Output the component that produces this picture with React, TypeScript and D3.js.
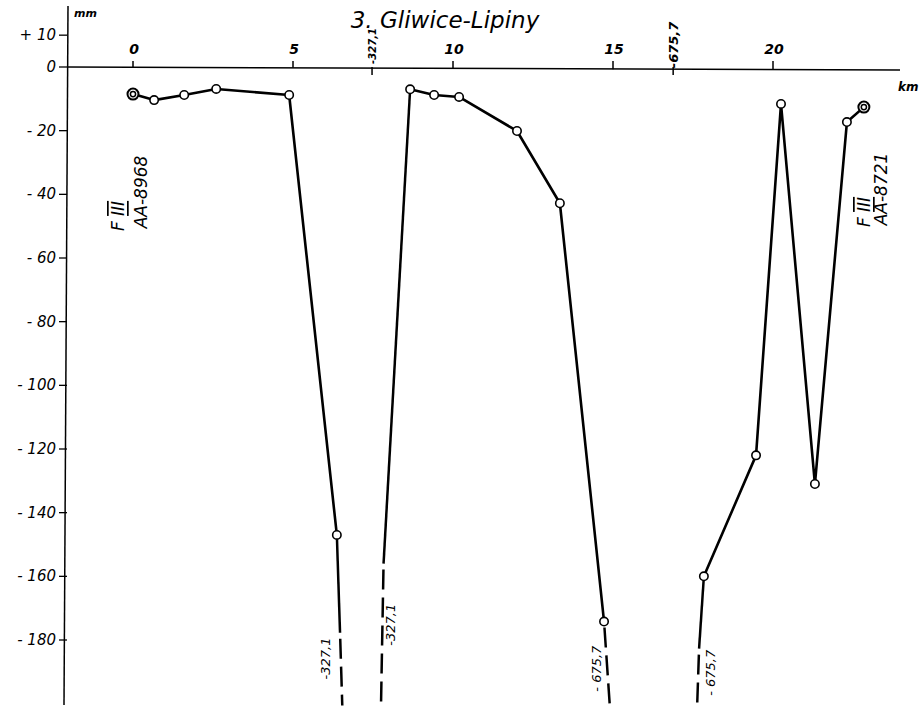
import React from "react";
import * as d3 from "d3";

const W = 919;
const H = 712;

const title = "3. Gliwice-Lipiny";
const kmTicks = [0, 5, 10, 15, 20];
const mmTicks = [10, 0, -20, -40, -60, -80, -100, -120, -140, -160, -180];
const mmTickLabels = ["+ 10", "0", "- 20", "- 40", "- 60", "- 80", "- 100", "- 120", "- 140", "- 160", "- 180"];

// profile segments (km, mm)
const seg1Km = [0, 0.66, 1.6, 2.6, 4.88, 6.37];
const seg1Mm = [-8.5, -10.4, -8.8, -6.9, -8.8, -147];
const seg2Km = [8.66, 9.41, 10.19, 12.0, 13.34, 14.72];
const seg2Mm = [-7, -8.8, -9.4, -20.1, -42.8, -174.2];
const seg3Km = [17.84, 19.47, 20.25, 21.31, 22.31, 22.84];
const seg3Mm = [-160, -122, -11.6, -131, -17.3, -12.6];

// off-scale continuations: [point, solid end, dashed end]
const breakKm = [
  [6.37, 6.47, 6.54],
  [8.66, 7.83, 7.75],
  [14.72, 14.72, 14.9],
  [17.84, 17.69, 17.63],
];
const breakMm = [
  [-147, -177.7, -200.6],
  [-7, -156, -200.6],
  [-174.2, -174.2, -200.6],
  [-160, -182.7, -200.6],
];
const breakLabels = ["-327,1", "-327,1", "- 675,7", "- 675,7"];
const breakLabelKm = [6.02, 8.04, 14.47, 18.05];
const breakLabelMm = [-185.8, -175.2, -189, -190.3];

// axis break markers on km axis
const axisBreakKm = [7.47, 16.88];
const axisBreakLabels = ["-327,1", "-675,7"];

// station labels
const stationLeft = ["F III", "AA-8968"];
const stationRight = ["F III", "AA-8721"];

const FONT = "'DejaVu Sans', 'Liberation Sans', sans-serif";

export default function App() {
  const x = d3.scaleLinear().domain([0, 20]).range([133, 773]);
  const y = d3.scaleLinear().domain([0, -180]).range([67, 640]);
  const line = d3
    .line<[number, number]>()
    .x((d) => x(d[0]))
    .y((d) => y(d[1]));

  const segs = [
    [seg1Km, seg1Mm],
    [seg2Km, seg2Mm],
    [seg3Km, seg3Mm],
  ].map(([k, m]) => k.map((v, i) => [v, m[i]] as [number, number]));

  const axisY0 = y(0);
  const txt = { fontFamily: FONT, fontStyle: "italic" as const, fill: "#000" };

  const rotLabel = (
    cx: number,
    cy: number,
    s: React.ReactNode,
    size: number,
    key?: string | number,
    weight: string = "normal"
  ) => (
    <text
      key={key}
      transform={`translate(${cx},${cy}) rotate(-90)`}
      textAnchor="middle"
      dominantBaseline="central"
      fontSize={size}
      fontWeight={weight}
      {...txt}
    >
      {s}
    </text>
  );

  const roman = (s: string) => {
    const [f, r] = s.split(" ");
    return (
      <>
        {f + " "}
        <tspan textDecoration="overline underline">{r}</tspan>
      </>
    );
  };

  return (
    <svg
      width={W}
      height={H}
      style={{ position: "absolute", left: 0, top: 0, background: "#fff" }}
    >
      <rect width={W} height={H} fill="#fff" />
      {/* title */}
      <text x={445} y={28} textAnchor="middle" fontSize={23} {...txt}>
        {title}
      </text>
      <text x={74} y={17} fontSize={11} fontWeight="bold" {...txt}>
        mm
      </text>
      <text x={898} y={91} fontSize={12} fontWeight="bold" {...txt}>
        km
      </text>

      {/* y axis */}
      <line x1={68} y1={6} x2={64} y2={705} stroke="#000" strokeWidth={1.5} />
      {mmTicks.map((t, i) => (
        <g key={t}>
          <line x1={59} x2={67} y1={y(t)} y2={y(t)} stroke="#000" strokeWidth={1.3} />
          <text
            x={56}
            y={y(t)}
            textAnchor="end"
            dominantBaseline="central"
            fontSize={15}
            {...txt}
          >
            {mmTickLabels[i]}
          </text>
        </g>
      ))}

      {/* x axis */}
      <line x1={67} y1={axisY0} x2={900} y2={axisY0 + 3} stroke="#000" strokeWidth={1.5} />
      {kmTicks.map((t) => (
        <g key={t}>
          <line x1={x(t)} x2={x(t)} y1={axisY0 - 6} y2={axisY0 + t * 0.15} stroke="#000" strokeWidth={1.5} />
          <text x={x(t) + 1} y={54} textAnchor="middle" fontSize={14} fontWeight="bold" {...txt}>
            {t}
          </text>
        </g>
      ))}
      {axisBreakKm.map((k, i) => (
        <g key={k}>
          <line x1={x(k)} x2={x(k)} y1={axisY0} y2={axisY0 + 8} stroke="#000" strokeWidth={1.5} />
          {rotLabel(x(k), i === 0 ? 46 : 45, axisBreakLabels[i], i === 0 ? 10 : 13, "ab" + i, "bold")}
        </g>
      ))}

      {/* off-scale continuations */}
      {breakKm.map((k, i) => {
        const m = breakMm[i];
        return (
          <g key={"b" + i}>
            <path
              d={line([[k[0], m[0]], [k[1], m[1]]]) || ""}
              fill="none"
              stroke="#000"
              strokeWidth={2.5}
            />
            <path
              d={line([[k[1], m[1]], [k[2], m[2]]]) || ""}
              fill="none"
              stroke="#000"
              strokeWidth={2.5}
              strokeDasharray="20 8"
              strokeDashoffset={-6}
            />
            {rotLabel(x(breakLabelKm[i]), y(breakLabelMm[i]), breakLabels[i], 13, "bl" + i)}
          </g>
        );
      })}

      {/* profile lines */}
      {segs.map((s, i) => (
        <path key={"s" + i} d={line(s) || ""} fill="none" stroke="#000" strokeWidth={2.6} strokeLinejoin="round" />
      ))}
      {segs.map((s, i) =>
        s.map((d, j) => {
          const dbl = (i === 0 && j === 0) || (i === 2 && j === s.length - 1);
          return dbl ? (
            <g key={`p${i}-${j}`}>
              <circle cx={x(d[0])} cy={y(d[1])} r={5.5} fill="#fff" stroke="#000" strokeWidth={2} />
              <circle cx={x(d[0])} cy={y(d[1])} r={2.6} fill="#fff" stroke="#000" strokeWidth={1.5} />
            </g>
          ) : (
            <circle key={`p${i}-${j}`} cx={x(d[0])} cy={y(d[1])} r={4.2} fill="#fff" stroke="#000" strokeWidth={1.6} />
          );
        })
      )}

      {/* station labels */}
      {rotLabel(118, 216, roman(stationLeft[0]), 17, "sl0")}
      {rotLabel(141, 192, stationLeft[1], 17, "sl1")}
      {rotLabel(864, 212, roman(stationRight[0]), 17, "sr0")}
      {rotLabel(881, 189, stationRight[1], 17, "sr1")}
    </svg>
  );
}
